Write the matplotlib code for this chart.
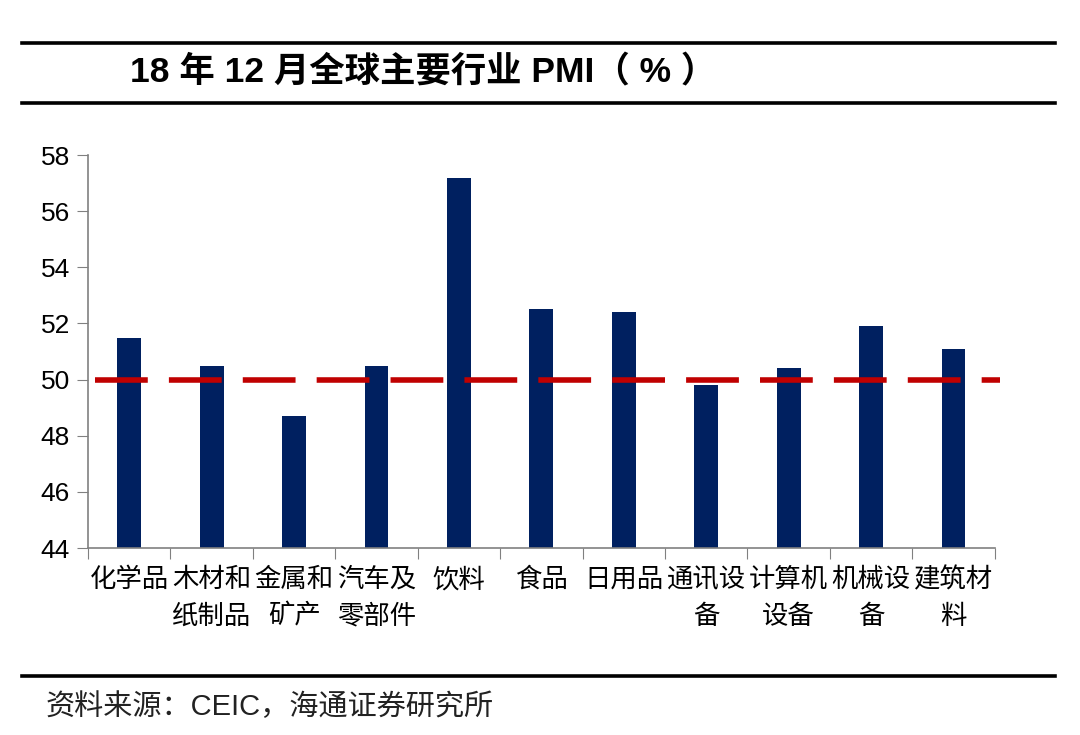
import matplotlib
matplotlib.use("Agg")
import matplotlib.pyplot as plt

plt.rcParams['font.family'] = ['Liberation Sans', 'Noto Sans CJK SC', 'DejaVu Sans']

# data
industries = ['化学品', '木材和\n纸制品', '金属和\n矿产', '汽车及\n零部件', '饮料', '食品',
              '日用品', '通讯设\n备', '计算机\n设备', '机械设\n备', '建筑材\n料']
pmi = [51.5, 50.5, 48.7, 50.5, 57.2, 52.5, 52.4, 49.8, 50.4, 51.9, 51.1]
threshold = 50.0
yticks = [44, 46, 48, 50, 52, 54, 56, 58]

title = '18 年 12 月全球主要行业 PMI（ % ）'
source = '资料来源：CEIC，海通证券研究所'

fig = plt.figure(figsize=(10.8, 7.35), dpi=100)
ax = fig.add_axes([0.0815, 0.2544, 0.8395, 0.5346])

x = list(range(len(industries)))
ax.bar(x, pmi, width=0.29, color='#002060', zorder=2)
ax.axhline(threshold, xmin=0.008, xmax=1.006, color='#C00000', lw=4,
           dashes=(9.5, 3.8), zorder=3, clip_on=False)

ax.set_xlim(-0.5, len(industries) - 0.5)
ax.set_ylim(yticks[0], yticks[-1])
ax.set_yticks(yticks)
ax.set_yticklabels([str(v) for v in yticks], fontsize=19)

# boundary ticks between categories, labels at centers
ax.set_xticks([i - 0.5 for i in range(len(industries) + 1)])
ax.set_xticklabels([])
ax.set_xticks(x, minor=True)
ax.set_xticklabels(industries, minor=True, fontsize=19,
                   family=['Noto Sans CJK SC'], linespacing=1.45)
ax.tick_params(axis='x', which='major', direction='out', length=8, color='#808080')
ax.tick_params(axis='x', which='minor', length=0, pad=13)
ax.tick_params(axis='y', direction='out', length=8, color='#808080', pad=5)

for side in ['top', 'right']:
    ax.spines[side].set_visible(False)
for side in ['left', 'bottom']:
    ax.spines[side].set_color('#808080')
    ax.spines[side].set_linewidth(1.2)

# header / footer rules
for yy in [1 - 43 / 735, 1 - 103 / 735, 1 - 676 / 735]:
    fig.add_artist(plt.Line2D([0.02, 0.977], [yy, yy], color='black', lw=2.6,
                              transform=fig.transFigure))

fig.text(0.12, 1 - 72 / 735, title, fontsize=25.5, fontweight='bold', va='center', ha='left')
fig.text(0.042, 1 - 707 / 735, source, fontsize=21, va='center', ha='left', color='#222222')

fig.savefig('out.png', dpi=100)
